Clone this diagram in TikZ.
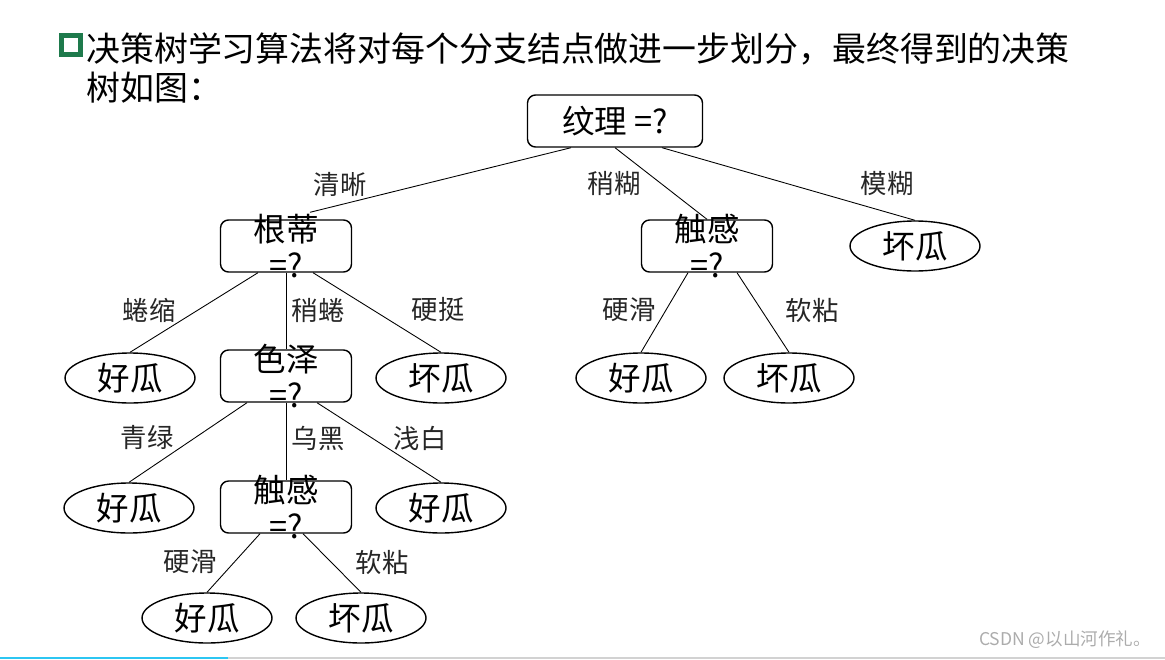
\documentclass[tikz,border=0pt]{standalone}
\usepackage{fontspec}
\setmainfont{Noto Sans CJK SC}
\usetikzlibrary{shapes.geometric, calc}
\definecolor{bulletgreen}{HTML}{1E7A4C}
\definecolor{barblue}{HTML}{2CC6F2}

\begin{document}
\begin{tikzpicture}[x=0.02cm,y=-0.02cm,
    test node/.style={draw,line width=0.8pt,rounded corners=0.16cm,minimum width=2.62cm,minimum height=1.04cm,inner xsep=0pt,inner ysep=-0.4cm,align=center,font=\fontsize{18.5}{20.5}\selectfont},
    leaf node/.style={ellipse,draw,line width=0.8pt,minimum width=2.6cm,minimum height=1cm,inner sep=0pt,font=\fontsize{18.5}{22}\selectfont},
    branch label/.style={inner sep=0pt,text=black!85,font=\fontsize{15}{18}\selectfont},
    branch line/.style={draw,line width=0.5pt}]

    \useasboundingbox (0,0) rectangle (1165,659);

    % title
    \node[draw=bulletgreen,line width=0.1cm,minimum size=0.38cm,inner sep=0pt] (bullet) at (71,45) {};
    \node[anchor=west,inner sep=0pt,font=\fontsize{19.3}{22}\selectfont] (title1) at (86,49) {决策树学习算法将对每个分支结点做进一步划分，最终得到的决策};
    \node[anchor=west,inner sep=0pt,font=\fontsize{19.3}{22}\selectfont] (title2) at (86,88) {树如图：};

    % tree
    \node[test node,minimum width=3.5cm,inner ysep=0pt] (0) at (615,121) {纹理 =?};
    \node[test node] (1)  at (286,246) {根蒂\\=?};
    \node[test node] (2)  at (707,246) {触感\\=?};
    \node[leaf node] (3)  at (915,246) {坏瓜};
    \node[leaf node] (4)  at (130,378) {好瓜};
    \node[test node] (5)  at (286,376) {色泽\\=?};
    \node[leaf node] (6)  at (441,378) {坏瓜};
    \node[leaf node] (7)  at (641,378) {好瓜};
    \node[leaf node] (8)  at (789,378) {坏瓜};
    \node[leaf node] (9)  at (129,508) {好瓜};
    \node[test node] (10) at (286,507) {触感\\=?};
    \node[leaf node] (11) at (441,508) {好瓜};
    \node[leaf node] (12) at (207,618) {好瓜};
    \node[leaf node] (13) at (361,618) {坏瓜};

    \path[every edge/.style={branch line}]
        ($(0.south)+(-44,0)$)  edge ($(1.north)+(24,-7)$)
        (0.south)              edge (2.north)
        ($(0.south)+(47,0)$)   edge (3.north)
        ($(1.south)+(-28,0)$)  edge (4.north)
        (1.south)              edge (5.north)
        ($(1.south)+(27,0)$)   edge (6.north)
        ($(2.south)+(-19,0)$)  edge (7.north)
        ($(2.south)+(30,0)$)   edge (8.north)
        ($(5.south)+(-39,0)$)  edge (9.north)
        (5.south)              edge (10.north)
        ($(5.south)+(31,0)$)   edge (11.north)
        ($(10.south)+(-26,0)$) edge (12.north)
        ($(10.south)+(17,0)$)  edge (13.north);

    % branch labels
    \node[branch label] (l01)  at (340,184) {清晰};
    \node[branch label] (l02)  at (614,184) {稍糊};
    \node[branch label] (l03)  at (887,184) {模糊};
    \node[branch label] (l14)  at (149,310) {蜷缩};
    \node[branch label] (l15)  at (318,310) {稍蜷};
    \node[branch label] (l16)  at (438,310) {硬挺};
    \node[branch label] (l27)  at (629,310) {硬滑};
    \node[branch label] (l28)  at (812,310) {软粘};
    \node[branch label] (l59)  at (147,438) {青绿};
    \node[branch label] (l510) at (318,438) {乌黑};
    \node[branch label] (l511) at (420,438) {浅白};
    \node[branch label] (l1012) at (190,562) {硬滑};
    \node[branch label] (l1013) at (382,562) {软粘};

    % footer
    \node[text=gray!65,inner sep=0pt,font=\fontsize{10}{12}\selectfont] (mark) at (1065,640) {CSDN @以山河作礼。};
    \draw[barblue,line width=0.05cm] (0,658) -- (228,658);
    \draw[gray!35,line width=0.05cm] (228,658) -- (1165,658);
\end{tikzpicture}
\end{document}
